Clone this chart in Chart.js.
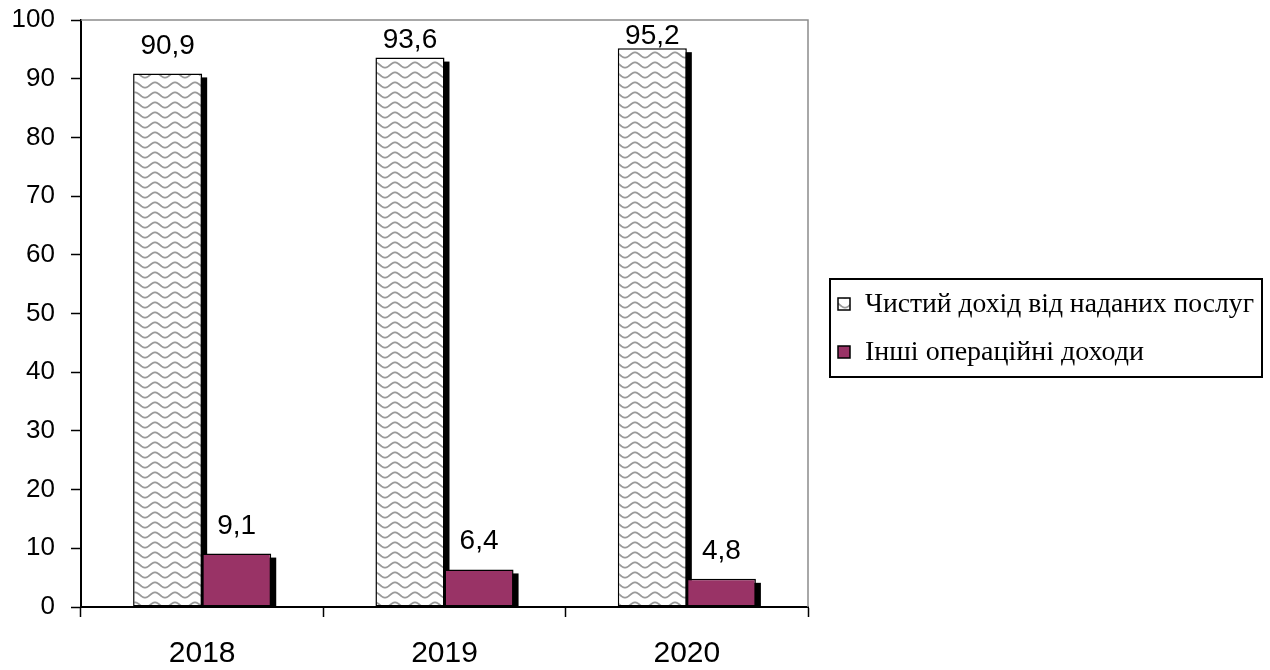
<!DOCTYPE html>
<html>
<head>
<meta charset="utf-8">
<script src="https://cdn.jsdelivr.net/npm/chart.js@4"></script>
<style>
  html, body { margin: 0; padding: 0; background: #fff; }
  #wrap { width: 1270px; height: 670px; position: relative; }
</style>
</head>
<body>
<div id="wrap"><canvas id="c" width="1270" height="670"></canvas></div>
<script>
// Years on the category axis
const years = ['2018', '2019', '2020'];
// Share of revenue, %
const netServiceIncome = [90.9, 93.6, 95.2];
const otherOperatingIncome = [9.1, 6.4, 4.8];
// Series names
const seriesNames = ['Чистий дохід від наданих послуг', 'Інші операційні доходи'];
// Value axis ticks
const yTicks = [0, 10, 20, 30, 40, 50, 60, 70, 80, 90, 100];

const MAROON = '#993366';
const SANS = '"Liberation Sans", Arial, sans-serif';
const SERIF = '"Liberation Serif", "Times New Roman", serif';

// Wavy grey hatch used for the first series
function makeWavePattern() {
  const w = 20, h = 10;
  const off = document.createElement('canvas');
  off.width = w; off.height = h;
  const g = off.getContext('2d');
  g.fillStyle = '#fff';
  g.fillRect(0, 0, w, h);
  g.strokeStyle = '#9a9a9a';
  g.lineWidth = 1.8;
  for (const dy of [-h, 0, h]) {
    g.beginPath();
    for (let x = -1; x <= w + 1; x += 0.5) {
      const y = 5 + dy + 2.6 * Math.sin((x / w) * Math.PI * 2);
      if (x === -1) g.moveTo(x, y); else g.lineTo(x, y);
    }
    g.stroke();
  }
  return g.createPattern(off, 'repeat');
}

const ctx = document.getElementById('c').getContext('2d');
const wave = makeWavePattern();

// Dark drop shadow behind every bar
const barShadows = {
  id: 'barShadows',
  beforeDatasetsDraw(chart) {
    const c = chart.ctx, a = chart.chartArea;
    c.save();
    c.beginPath();
    c.rect(a.left, a.top, a.right - a.left, a.bottom - a.top);
    c.clip();
    c.fillStyle = '#000';
    chart.data.datasets.forEach((ds, i) => {
      chart.getDatasetMeta(i).data.forEach(bar => {
        const p = bar.getProps(['x', 'y', 'base', 'width'], true);
        const left = p.x - p.width / 2;
        c.fillRect(left + 5, p.y + 4, p.width, p.base - p.y);
      });
    });
    c.restore();
  }
};

// Value labels above bars, grey frame lines, and the boxed legend
const decorations = {
  id: 'decorations',
  afterDatasetsDraw(chart) {
    const c = chart.ctx, a = chart.chartArea;
    c.save();
    // light frame on top and right of the plot
    c.strokeStyle = '#8c8c8c';
    c.lineWidth = 1.5;
    c.beginPath();
    c.moveTo(a.left, a.top);
    c.lineTo(a.right, a.top);
    c.lineTo(a.right, a.bottom);
    c.stroke();

    // value labels: 20px above the bar, squeezed down near the top of the plot
    c.fillStyle = '#000';
    c.font = '28px ' + SANS;
    c.textAlign = 'center';
    c.textBaseline = 'alphabetic';
    chart.data.datasets.forEach((ds, i) => {
      chart.getDatasetMeta(i).data.forEach((bar, j) => {
        const p = bar.getProps(['x', 'y'], true);
        const txt = ds.data[j].toFixed(1).replace('.', ',');
        const natural = p.y - 20;
        const squeezed = a.top + 24 + 0.38 * (p.y - a.top - 28);
        c.fillText(txt, p.x, Math.max(natural, squeezed));
      });
    });
    c.restore();
  },
  afterDraw(chart) {
    const c = chart.ctx;
    c.save();
    // legend box
    const bx = 830, by = 279, bw = 432, bh = 98;
    c.strokeStyle = '#000';
    c.lineWidth = 2;
    c.strokeRect(bx, by, bw, bh);
    const fills = [wave, MAROON];
    const rows = [304, 352];
    c.font = '28px ' + SERIF;
    c.textAlign = 'left';
    c.textBaseline = 'middle';
    seriesNames.forEach((name, i) => {
      const y = rows[i];
      c.fillStyle = fills[i];
      c.fillRect(838, y - 6, 12, 12);
      c.strokeStyle = '#000';
      c.lineWidth = 1.5;
      c.strokeRect(838, y - 6, 12, 12);
      c.fillStyle = '#000';
      c.fillText(name, 865, y + 1, 389);
    });
    c.restore();
  }
};

new Chart(ctx, {
  type: 'bar',
  data: {
    labels: years,
    datasets: [
      {
        label: seriesNames[0],
        data: netServiceIncome,
        backgroundColor: wave,
        borderColor: '#000',
        borderWidth: 1.5,
        borderSkipped: false,
        categoryPercentage: 0.57,
        barPercentage: 1.0
      },
      {
        label: seriesNames[1],
        data: otherOperatingIncome,
        backgroundColor: MAROON,
        borderColor: '#000',
        borderWidth: 1.5,
        borderSkipped: false,
        categoryPercentage: 0.57,
        barPercentage: 1.0
      }
    ]
  },
  options: {
    responsive: false,
    animation: false,
    layout: { padding: { top: 20, right: 462, left: 0, bottom: 0 } },
    plugins: {
      legend: { display: false },
      tooltip: { enabled: false }
    },
    scales: {
      x: {
        offset: true,
        grid: {
          offset: true,
          drawOnChartArea: false,
          drawTicks: true,
          tickLength: 10,
          tickColor: '#000',
          tickWidth: 1.5
        },
        border: { color: '#000', width: 2 },
        ticks: {
          color: '#000',
          padding: 19,
          font: { family: SANS, size: 30 }
        },
        afterFit(scale) {
          scale.height = 63;
          scale.paddingLeft = 0;
          scale.paddingRight = 0;
        }
      },
      y: {
        min: 0,
        max: 100,
        afterBuildTicks(scale) { scale.ticks = yTicks.map(v => ({ value: v })); },
        grid: {
          drawOnChartArea: false,
          drawTicks: true,
          tickLength: 10,
          tickColor: '#000',
          tickWidth: 1.5
        },
        border: { color: '#000', width: 2 },
        ticks: {
          color: '#000',
          padding: 16,
          font: { family: SANS, size: 26 }
        },
        afterFit(scale) {
          scale.width = 81;
          scale.paddingTop = 0;
          scale.paddingBottom = 0;
        }
      }
    }
  },
  plugins: [barShadows, decorations]
});
</script>
</body>
</html>
